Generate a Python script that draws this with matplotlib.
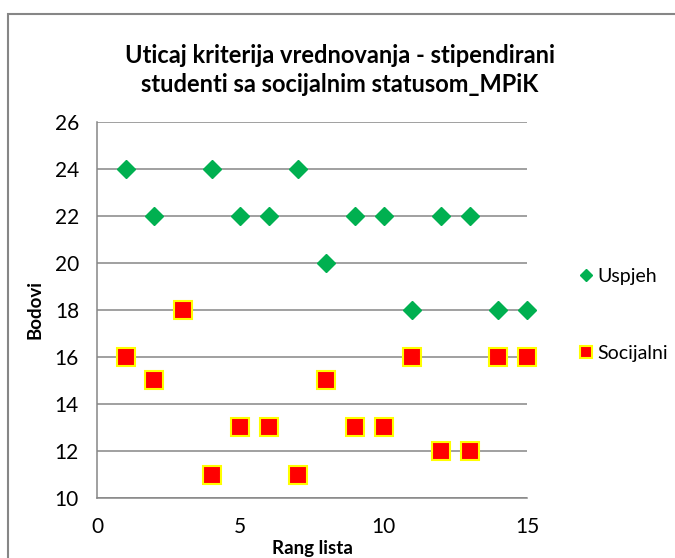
import matplotlib.pyplot as plt
from matplotlib.patches import Rectangle

plt.rcParams['font.family'] = ['Lato', 'DejaVu Sans']

rang = [1, 2, 3, 4, 5, 6, 7, 8, 9, 10, 11, 12, 13, 14, 15]
uspjeh = [24, 22, 18, 24, 22, 22, 24, 20, 22, 22, 18, 22, 22, 18, 18]
socijalni = [16, 15, 18, 11, 13, 13, 11, 15, 13, 13, 16, 12, 12, 16, 16]

fig = plt.figure(figsize=(6.75, 5.58), dpi=100)
ax = fig.add_axes([0.1437, 0.1075, 0.637, 0.674])

# outer chart border (cut off at right and bottom like the original)
fig.patches.append(Rectangle((8 / 675, -0.05), 1.0, 1 - 14 / 558 + 0.05,
                             transform=fig.transFigure, fill=False,
                             edgecolor='#868686', linewidth=1.5))

ax.plot(rang, uspjeh, linestyle='none', marker='D', markersize=9.5,
        color='#00B050', markeredgecolor='#00B050', label='Uspjeh',
        zorder=3, clip_on=False)
ax.plot(rang, socijalni, linestyle='none', marker='s', markersize=12.5,
        color='#FF0000', markeredgecolor='#FFFF00', markeredgewidth=1.5,
        label='Socijalni', zorder=4, clip_on=False)

ax.set_xlim(0, 15)
ax.set_ylim(10, 26)
ax.set_xticks([0, 5, 10, 15])
ax.set_yticks(range(10, 27, 2))
ax.grid(axis='y', color='#868686', linewidth=1.1)
ax.set_axisbelow(True)
for s in ['top', 'right']:
    ax.spines[s].set_visible(False)
for s in ['left', 'bottom']:
    ax.spines[s].set_color('#868686')
    ax.spines[s].set_linewidth(1.1)
ax.tick_params(length=0, labelsize=15, pad=13)
ax.tick_params(axis='x', pad=14)

ax.set_xlabel('Rang lista', fontsize=13.5, fontweight='bold', labelpad=2)
ax.set_ylabel('Bodovi', fontsize=13.5, fontweight='bold', labelpad=8)

fig.text(0.503, 0.875, 'Uticaj kriterija vrednovanja - stipendirani\nstudenti sa socijalnim statusom_MPiK',
         ha='center', va='center', fontsize=17, fontweight='bold', linespacing=1.3)

fig.legend(loc='center left', bbox_to_anchor=(0.845, 0.436), frameon=False,
           fontsize=14, labelspacing=3.1, handlelength=0.6, handletextpad=0.3,
           markerscale=0.65, borderpad=0)

fig.savefig('out.png', dpi=100)
